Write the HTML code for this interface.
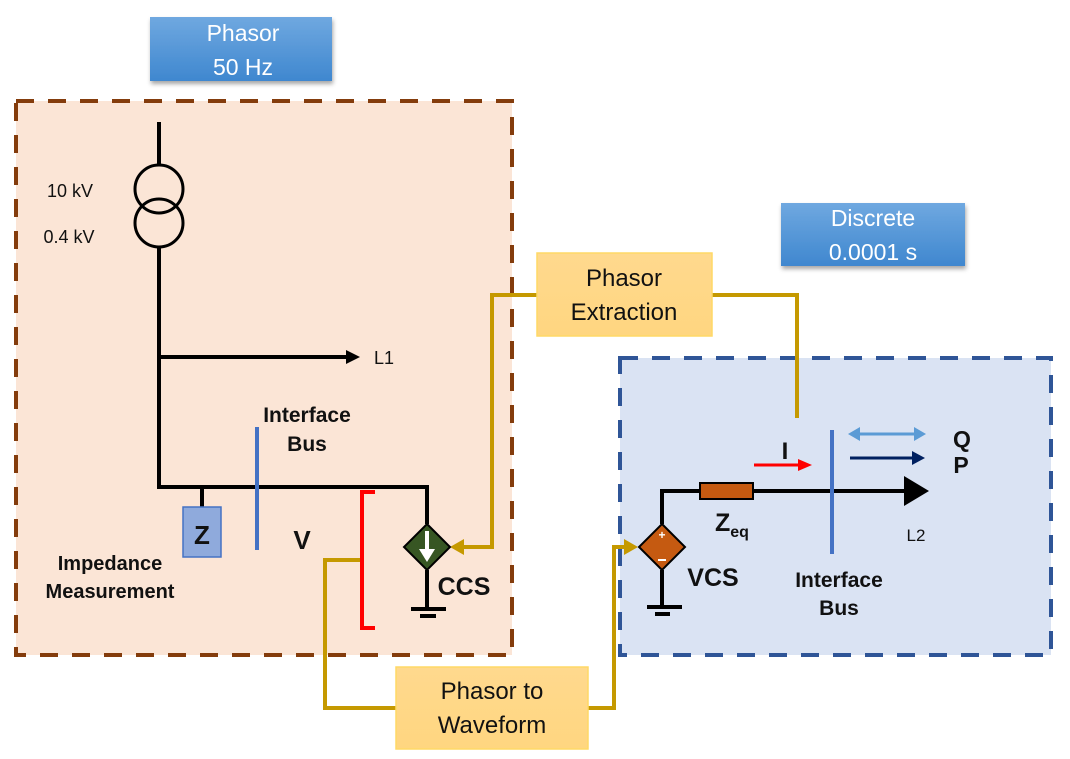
<!DOCTYPE html>
<html><head><meta charset="utf-8"><style>
html,body{margin:0;padding:0;background:#fff;}
svg{display:block;font-family:"Liberation Sans",sans-serif;}
</style></head><body>
<svg width="1070" height="759" viewBox="0 0 1070 759" xmlns="http://www.w3.org/2000/svg">
<defs>
<linearGradient id="bl" x1="0" y1="0" x2="0" y2="1"><stop offset="0" stop-color="#6fa8e0"/><stop offset="1" stop-color="#3f87cf"/></linearGradient>
<linearGradient id="yl" x1="0" y1="0" x2="0" y2="1"><stop offset="0" stop-color="#ffd98e"/><stop offset="1" stop-color="#ffd680"/></linearGradient>
<filter id="sh" x="-10%" y="-10%" width="130%" height="140%"><feDropShadow dx="1" dy="3" stdDeviation="2" flood-color="#000" flood-opacity="0.35"/></filter>
</defs>
<rect x="16" y="101" width="496" height="554" fill="#fbe5d6" stroke="#843c0c" stroke-width="4" stroke-dasharray="18,14"/>
<rect x="620" y="358" width="431" height="297" fill="#dae3f3" stroke="#2f5597" stroke-width="4" stroke-dasharray="18,14"/>
<rect x="150" y="17" width="182" height="64" fill="url(#bl)" filter="url(#sh)"/>
<text x="243" y="41" font-size="23" fill="#fff" text-anchor="middle">Phasor</text>
<text x="243" y="75" font-size="23" fill="#fff" text-anchor="middle">50 Hz</text>
<rect x="781" y="203" width="184" height="63" fill="url(#bl)" filter="url(#sh)"/>
<text x="873" y="226" font-size="23" fill="#fff" text-anchor="middle">Discrete</text>
<text x="873" y="260" font-size="23" fill="#fff" text-anchor="middle">0.0001 s</text>
<g fill="none" stroke="#c59900" stroke-width="4">
<polyline points="537,295 492,295 492,547 462,547"/>
<polyline points="712,295 797,295 797,418"/>
<polyline points="362,560 325,560 325,708 396,708"/>
<polyline points="588,708 614,708 614,547 624,547"/>
</g>
<polygon points="450,547 464,539 464,555" fill="#c59900"/>
<polygon points="638,547 624,539 624,555" fill="#c59900"/>
<rect x="537" y="253" width="175" height="83" fill="url(#yl)" stroke="#ffd966" stroke-width="1.5"/>
<text x="624" y="286" font-size="24" fill="#111" text-anchor="middle">Phasor</text>
<text x="624" y="320" font-size="24" fill="#111" text-anchor="middle">Extraction</text>
<rect x="396" y="667" width="192" height="82" fill="url(#yl)" stroke="#ffd966" stroke-width="1.5"/>
<text x="492" y="699" font-size="24" fill="#111" text-anchor="middle">Phasor to</text>
<text x="492" y="733" font-size="24" fill="#111" text-anchor="middle">Waveform</text>
<g stroke="#000" stroke-width="4" fill="none">
<line x1="159" y1="122" x2="159" y2="164"/>
<circle cx="159" cy="189" r="24" stroke-width="3"/>
<circle cx="159" cy="223" r="24" stroke-width="3"/>
<polyline points="159,248 159,487 427,487 427,524"/>
<line x1="159" y1="357" x2="346" y2="357"/>
<line x1="202" y1="487" x2="202" y2="508"/>
<line x1="427" y1="570" x2="427" y2="608"/>
<line x1="411" y1="609" x2="446" y2="609"/>
<line x1="420" y1="616" x2="436" y2="616"/>
</g>
<polygon points="346,350 360,357 346,364" fill="#000"/>
<text x="374" y="364" font-size="18" fill="#111">L1</text>
<text x="70" y="197" font-size="18" fill="#111" text-anchor="middle">10 kV</text>
<text x="69" y="243" font-size="18" fill="#111" text-anchor="middle">0.4 kV</text>
<rect x="183" y="507" width="38" height="50" fill="#8faadc" stroke="#4472c4" stroke-width="1.5"/>
<text x="202" y="544" font-size="26" font-weight="bold" fill="#111" text-anchor="middle">Z</text>
<line x1="257" y1="427" x2="257" y2="550" stroke="#4472c4" stroke-width="4"/>
<text x="307" y="422" font-size="21" font-weight="bold" fill="#111" text-anchor="middle">Interface</text>
<text x="307" y="451" font-size="21" font-weight="bold" fill="#111" text-anchor="middle">Bus</text>
<text x="110" y="570" font-size="20" font-weight="bold" fill="#111" text-anchor="middle">Impedance</text>
<text x="110" y="598" font-size="20" font-weight="bold" fill="#111" text-anchor="middle">Measurement</text>
<text x="302" y="549" font-size="26" font-weight="bold" fill="#111" text-anchor="middle">V</text>
<polyline points="375,492 362,492 362,628 375,628" fill="none" stroke="#ff0000" stroke-width="4"/>
<polygon points="427,524 450,547 427,570 404,547" fill="#375623" stroke="#000" stroke-width="2"/>
<line x1="427" y1="531" x2="427" y2="550" stroke="#fff" stroke-width="4"/>
<polygon points="419,549 435,549 427,562" fill="#fff"/>
<text x="464" y="595" font-size="25" font-weight="bold" fill="#111" text-anchor="middle">CCS</text>
<g stroke="#000" stroke-width="4" fill="none">
<polyline points="662,524 662,491 905,491"/>
<line x1="662" y1="570" x2="662" y2="606"/>
<line x1="647" y1="607" x2="682" y2="607"/>
<line x1="655" y1="614" x2="670" y2="614"/>
</g>
<polygon points="904,476 929,491 904,506" fill="#000"/>
<rect x="700" y="483" width="53" height="16" fill="#c55a11" stroke="#000" stroke-width="2"/>
<line x1="832" y1="430" x2="832" y2="554" stroke="#4472c4" stroke-width="4"/>
<polygon points="662,524 685,547 662,570 639,547" fill="#c55a11" stroke="#000" stroke-width="2"/>
<text x="662" y="539" font-size="12" font-weight="bold" fill="#fff" text-anchor="middle">+</text>
<line x1="658" y1="560" x2="666" y2="560" stroke="#fff" stroke-width="2"/>
<text x="713" y="586" font-size="25" font-weight="bold" fill="#111" text-anchor="middle">VCS</text>
<text x="715" y="531" font-size="25" font-weight="bold" fill="#111">Z<tspan font-size="16" dy="6">eq</tspan></text>
<line x1="754" y1="465" x2="800" y2="465" stroke="#ff0000" stroke-width="3"/>
<polygon points="798,459 812,465 798,471" fill="#ff0000"/>
<text x="785" y="459" font-size="24" font-weight="bold" fill="#111" text-anchor="middle">I</text>
<line x1="858" y1="434" x2="916" y2="434" stroke="#5b9bd5" stroke-width="3"/>
<polygon points="848,434 860,427 860,441" fill="#5b9bd5"/>
<polygon points="926,434 914,427 914,441" fill="#5b9bd5"/>
<line x1="850" y1="458" x2="914" y2="458" stroke="#002060" stroke-width="3"/>
<polygon points="912,451 925,458 912,465" fill="#002060"/>
<text x="962" y="447" font-size="23" font-weight="bold" fill="#111" text-anchor="middle">Q</text>
<text x="961" y="473" font-size="23" font-weight="bold" fill="#111" text-anchor="middle">P</text>
<text x="916" y="541" font-size="17" fill="#111" text-anchor="middle">L2</text>
<text x="839" y="587" font-size="21" font-weight="bold" fill="#111" text-anchor="middle">Interface</text>
<text x="839" y="615" font-size="21" font-weight="bold" fill="#111" text-anchor="middle">Bus</text>
</svg>
</body></html>
